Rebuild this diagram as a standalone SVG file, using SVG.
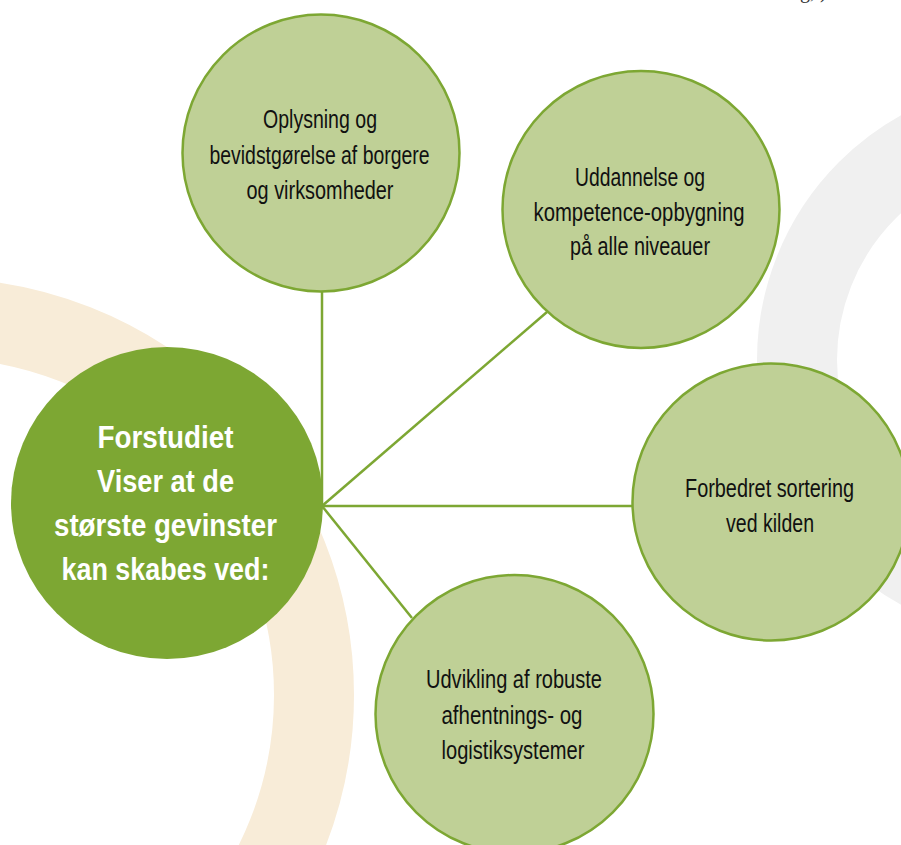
<svg xmlns="http://www.w3.org/2000/svg" width="901" height="845" viewBox="0 0 901 845">
<style>
.ring-beige{fill:none;stroke:#F8ECD8;stroke-width:80}
.ring-gray{fill:none;stroke:#F0F0F0;stroke-width:80}
.conn{stroke:#7DA733;stroke-width:2.5;fill:none}
.node{fill:#BFD096;stroke:#7DA733;stroke-width:2.5}
.hub{fill:#7DA733}
.lbl{font-family:"Liberation Sans","Noto Sans",sans-serif;font-size:25px;fill:#111;text-anchor:middle}
.hublbl{font-family:"Liberation Sans","Noto Sans",sans-serif;font-size:31px;font-weight:bold;fill:#fff;text-anchor:middle}
</style>
<rect width="901" height="845" fill="#fff"/>
<g id="background">
<circle class="ring-beige" cx="-63" cy="695" r="377"/>
<circle class="ring-gray" cx="1037" cy="360" r="240"/>
<text x="800" y="-2" font-family="Liberation Serif, serif" font-size="20" fill="#333">g, )</text>
</g>
<g id="connectors">
<line class="conn" x1="322" y1="506" x2="322" y2="291"/>
<line class="conn" x1="322" y1="506" x2="547" y2="312"/>
<line class="conn" x1="322" y1="506" x2="633" y2="506"/>
<line class="conn" x1="322" y1="506" x2="412" y2="618"/>
</g>
<g id="hub">
<circle class="hub" cx="167" cy="503" r="156"/>
<text class="hublbl" x="165.5" y="448" textLength="136" lengthAdjust="spacingAndGlyphs">Forstudiet</text>
<text class="hublbl" x="165.5" y="492" textLength="137" lengthAdjust="spacingAndGlyphs">Viser at de</text>
<text class="hublbl" x="165.5" y="536" textLength="223" lengthAdjust="spacingAndGlyphs">største gevinster</text>
<text class="hublbl" x="165.5" y="580" textLength="208" lengthAdjust="spacingAndGlyphs">kan skabes ved:</text>
</g>
<g id="node-oplysning">
<circle class="node" cx="321" cy="153" r="138.5"/>
<text class="lbl" x="320" y="128" textLength="114" lengthAdjust="spacingAndGlyphs">Oplysning og</text>
<text class="lbl" x="319.5" y="164" textLength="220" lengthAdjust="spacingAndGlyphs">bevidstgørelse af borgere</text>
<text class="lbl" x="320" y="199" textLength="147" lengthAdjust="spacingAndGlyphs">og virksomheder</text>
</g>
<g id="node-uddannelse">
<circle class="node" cx="641" cy="209.5" r="138.5"/>
<text class="lbl" x="640" y="186" textLength="130" lengthAdjust="spacingAndGlyphs">Uddannelse og</text>
<text class="lbl" x="639" y="221" textLength="211" lengthAdjust="spacingAndGlyphs">kompetence-opbygning</text>
<text class="lbl" x="640" y="255" textLength="140" lengthAdjust="spacingAndGlyphs">på alle niveauer</text>
</g>
<g id="node-forbedret">
<circle class="node" cx="771" cy="502" r="138.5"/>
<text class="lbl" x="769.5" y="497" textLength="169" lengthAdjust="spacingAndGlyphs">Forbedret sortering</text>
<text class="lbl" x="770" y="532" textLength="88" lengthAdjust="spacingAndGlyphs">ved kilden</text>
</g>
<g id="node-udvikling">
<circle class="node" cx="514.5" cy="714" r="139"/>
<text class="lbl" x="514" y="688" textLength="176" lengthAdjust="spacingAndGlyphs">Udvikling af robuste</text>
<text class="lbl" x="512" y="724" textLength="141" lengthAdjust="spacingAndGlyphs">afhentnings- og</text>
<text class="lbl" x="513" y="759" textLength="143" lengthAdjust="spacingAndGlyphs">logistiksystemer</text>
</g>
</svg>
